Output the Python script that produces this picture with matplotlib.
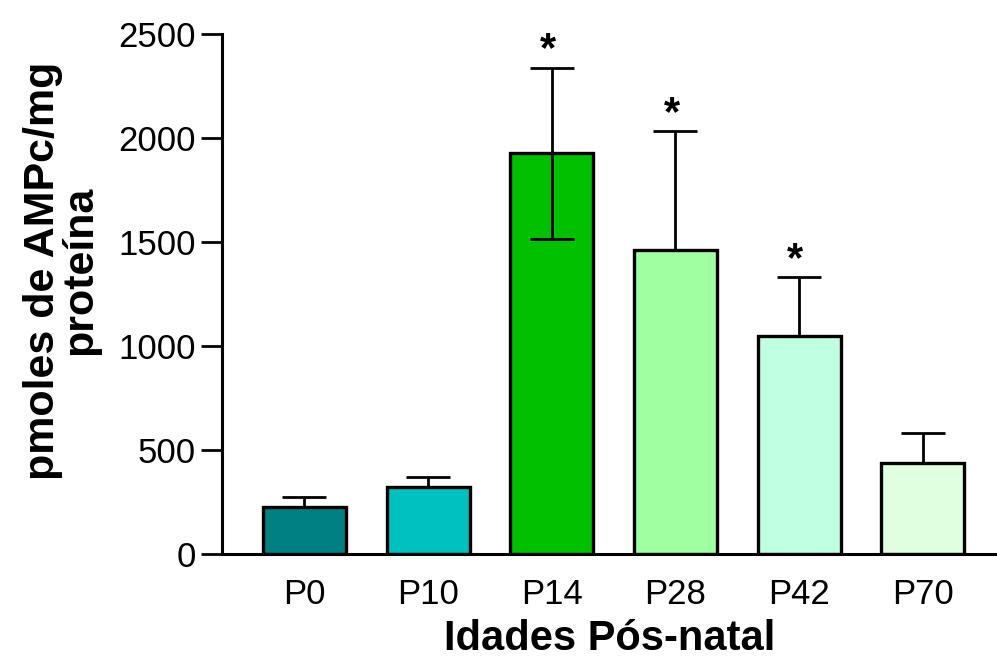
import matplotlib
matplotlib.use("Agg")
import matplotlib.pyplot as plt
import numpy as np

plt.rcParams['font.family'] = ['Liberation Sans', 'DejaVu Sans']

categories = ["P0", "P10", "P14", "P28", "P42", "P70"]
means = [228, 322, 1929, 1461, 1050, 439]
err_upper = [48, 46, 408, 572, 280, 144]
err_lower = [0, 0, 414, 0, 0, 0]
significant = [False, False, True, True, True, False]
colors = ["#008080", "#00C0C0", "#00C000", "#A0FFA0", "#C0FFE0", "#E0FFE0"]
yticks = [0, 500, 1000, 1500, 2000, 2500]

W, H = 997, 662
fig = plt.figure(figsize=(W / 100, H / 100), dpi=100)
ax = fig.add_axes([222 / W, 1 - 554 / H, (997 - 222) / W, (554 - 34) / H])

x = np.arange(len(categories))
ax.bar(x, means, width=0.67, color=colors, edgecolor="black", linewidth=2.4, zorder=2)
ax.errorbar(x, means, yerr=[err_lower, err_upper], fmt="none", ecolor="black",
            elinewidth=2.0, capsize=15.5, capthick=2.0, zorder=3)

for xi, m, e, s in zip(x, means, err_upper, significant):
    if s:
        ax.text(xi - 0.03, m + e - 12, "*", ha="center", va="bottom",
                fontsize=30, fontweight="bold", clip_on=False)

ax.set_xlim(-0.667, 5.6)
ax.set_ylim(0, 2500)
ax.set_yticks(yticks)
ax.set_xticks(x)
ax.set_xticklabels(categories)
ax.tick_params(axis="y", labelsize=25, length=15, width=2, direction="out", pad=4)
ax.tick_params(axis="x", labelsize=25, length=0, pad=17)

for sp in ["top", "right"]:
    ax.spines[sp].set_visible(False)
for sp in ["left", "bottom"]:
    ax.spines[sp].set_linewidth(2.2)

ax.set_xlabel("Idades Pós-natal", fontsize=30, fontweight="bold", labelpad=6)
ax.set_ylabel("pmoles de AMPc/mg\nproteína", fontsize=31, fontweight="bold",
              linespacing=0.92)
ax.yaxis.set_label_coords(-0.157, 0.545)

fig.savefig("out.png", dpi=100)
